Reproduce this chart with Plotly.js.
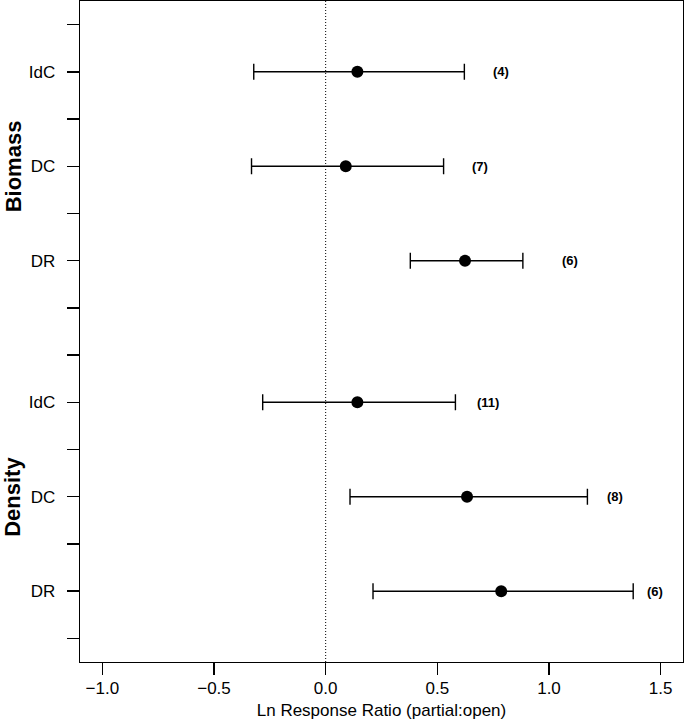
<!DOCTYPE html>
<html>
<head>
<meta charset="utf-8">
<script src="https://cdn.plot.ly/plotly-3.0.1.min.js"></script>
<style>html,body{margin:0;padding:0;background:#fff;}#chart{width:685px;height:721px;}</style>
</head>
<body>
<div id="chart"></div>
<script>
// Data (rows top to bottom)
const groups = ["Biomass", "Biomass", "Biomass", "Density", "Density", "Density"];
const categories = ["IdC", "DC", "DR", "IdC", "DC", "DR"];
const rowPos = [2, 4, 6, 9, 11, 13];
const meanLRR = [0.142, 0.090, 0.624, 0.142, 0.633, 0.786];
const lowerCI = [-0.322, -0.332, 0.379, -0.282, 0.109, 0.212];
const upperCI = [0.621, 0.528, 0.883, 0.581, 1.172, 1.377];
const nStudies = [4, 7, 6, 11, 8, 6];
const countX = [0.785, 0.692, 1.094, 0.726, 1.296, 1.474];
const tickVals = [1,2,3,4,5,6,7,8,9,10,11,12,13,14];
const groupNames = ["Biomass", "Density"];
const groupPos = [4, 11];
const xTicks = [-1.0, -0.5, 0.0, 0.5, 1.0, 1.5];

const tickText = tickVals.map(v => {
  const i = rowPos.indexOf(v);
  return i >= 0 ? categories[i] : "";
});

const FONT = "Liberation Sans, Arial, Helvetica, sans-serif";

const trace = {
  type: "scatter",
  mode: "markers",
  x: meanLRR,
  y: rowPos,
  marker: {color: "#000", size: 12},
  error_x: {
    type: "data",
    symmetric: false,
    array: upperCI.map((u, i) => u - meanLRR[i]),
    arrayminus: meanLRR.map((m, i) => m - lowerCI[i]),
    color: "#000",
    thickness: 1.4,
    width: 8
  },
  hoverinfo: "skip",
  showlegend: false
};

const annotations = [];
nStudies.forEach((n, i) => {
  annotations.push({
    x: countX[i], y: rowPos[i], xref: "x", yref: "y",
    text: "<b>(" + n + ")</b>", showarrow: false,
    font: {family: FONT, size: 13, color: "#000"},
    xanchor: "center", yanchor: "middle"
  });
});
groupNames.forEach((g, i) => {
  annotations.push({
    x: -0.111, y: groupPos[i], xref: "paper", yref: "y",
    text: "<b>" + g + "</b>", showarrow: false, textangle: -90,
    font: {family: FONT, size: 22, color: "#000"},
    xanchor: "center", yanchor: "middle"
  });
});

const layout = {
  width: 685, height: 721,
  margin: {l: 80, r: 2, t: 1, b: 59},
  paper_bgcolor: "#fff", plot_bgcolor: "#fff",
  font: {family: FONT, color: "#000", size: 17},
  xaxis: {
    range: [-1.1, 1.6],
    tickvals: xTicks,
    ticktext: xTicks.map(v => (v < 0 ? "\u2212" : "") + Math.abs(v).toFixed(1)),
    ticks: "outside", ticklen: 12, tickwidth: 1.4, tickcolor: "#000",
    showline: true, linecolor: "#000", linewidth: 1.4, mirror: true,
    showgrid: false, zeroline: false,
    ticklabelstandoff: -2,
    tickfont: {family: FONT, size: 17},
    title: {text: "Ln Response Ratio (partial:open)", font: {family: FONT, size: 17}, standoff: 7}
  },
  yaxis: {
    range: [14.5, 0.5],
    tickvals: tickVals,
    ticktext: tickText,
    ticks: "outside", ticklen: 12, tickwidth: 1.4, tickcolor: "#000",
    showline: true, linecolor: "#000", linewidth: 1.4, mirror: true,
    showgrid: false, zeroline: false,
    ticklabelstandoff: 8,
    tickfont: {family: FONT, size: 17}
  },
  shapes: [{
    type: "line", xref: "x", yref: "paper", x0: 0, x1: 0, y0: 0, y1: 1,
    line: {color: "#000", width: 1, dash: "1px,2px"}
  }],
  annotations: annotations
};

Plotly.newPlot("chart", [trace], layout, {displayModeBar: false, staticPlot: true});
</script>
</body>
</html>
